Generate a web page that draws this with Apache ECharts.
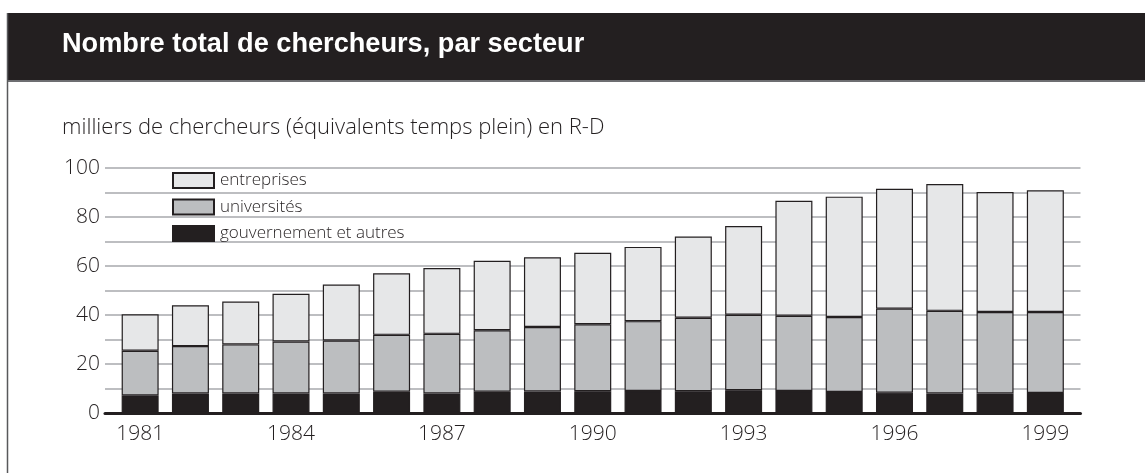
<!DOCTYPE html>
<html>
<head>
<meta charset="utf-8">
<title>Nombre total de chercheurs, par secteur</title>
<script src="https://cdn.jsdelivr.net/npm/echarts@6/dist/echarts.min.js"></script>
<style>
  html, body { margin: 0; padding: 0; background: #fff; }
  #chart { width: 1145px; height: 473px; }
</style>
</head>
<body>
<div id="chart"></div>
<script>
const years = ['1981', '1982', '1983', '1984', '1985', '1986', '1987', '1988', '1989', '1990',
  '1991', '1992', '1993', '1994', '1995', '1996', '1997', '1998', '1999']

// milliers de chercheurs, par secteur
const gouvernement = [7.2, 8.0, 8.0, 8.0, 8.0, 8.7, 8.0, 8.7, 8.8, 8.9, 9.0, 8.9, 9.3, 9.0, 8.6, 8.3, 8.0, 8.0, 8.2]
const universites = [18.2, 19.3, 20.0, 21.2, 21.6, 23.2, 24.3, 25.1, 26.3, 27.3, 28.5, 30.0, 30.8, 30.7, 30.6, 34.3, 33.7, 33.2, 33.0]
const entreprises = [14.9, 16.7, 17.5, 19.5, 22.8, 25.1, 26.9, 28.3, 28.5, 29.2, 30.3, 33.1, 36.2, 46.9, 49.1, 48.9, 51.8, 49.0, 49.7]

const yMin = 0
const yMax = 100
const yStep = 10

const ink = '#231f20'
const font = "'Open Sans', 'Liberation Sans', sans-serif"

const chart = echarts.init(document.getElementById('chart'))

const barStyle = (color) => ({ color: color, borderColor: ink, borderWidth: 1.2 })

chart.setOption({
  animation: false,
  textStyle: { fontFamily: font, color: ink },
  graphic: [
    { type: 'rect', z: 0, shape: { x: 7, y: 13, width: 1140, height: 68 }, style: { fill: ink } },
    { type: 'line', z: 0, shape: { x1: 7, y1: 81, x2: 1145, y2: 81 }, style: { stroke: '#6d6e71', lineWidth: 2 } },
    { type: 'line', z: 0, shape: { x1: 7.5, y1: 13, x2: 7.5, y2: 473 }, style: { stroke: '#58595b', lineWidth: 1.5 } },
    {
      // titre condensé : pas de police étroite installée, on resserre en largeur
      type: 'text',
      z: 1,
      x: 62,
      y: 44,
      scaleX: 0.97,
      style: {
        text: 'Nombre total de chercheurs, par secteur',
        fill: '#fff',
        font: "bold 28px 'Liberation Sans', Arial, sans-serif",
        verticalAlign: 'middle'
      }
    }
  ],
  title: {
    text: 'milliers de chercheurs (équivalents temps plein) en R-D',
    left: 62,
    top: 117,
    padding: 0,
    textStyle: { color: ink, fontFamily: font, fontWeight: 300, fontSize: 22 }
  },
  legend: {
    orient: 'vertical',
    left: 172,
    top: 172,
    padding: 0,
    itemWidth: 41,
    itemHeight: 15,
    itemGap: 9.5,
    icon: 'rect',
    data: ['entreprises', 'universités', 'gouvernement et autres'],
    textStyle: { color: ink, fontSize: 17, fontWeight: 300, lineHeight: 15, padding: [0, 0, 0, 1] }
  },
  grid: [
    { left: 115, right: 74.5, top: 168, bottom: 60 },
    { left: 105, right: 64.5, top: 168, bottom: 60 }
  ],
  xAxis: [{
    gridIndex: 0,
    type: 'category',
    data: years,
    axisLine: { show: false },
    axisTick: { show: false },
    axisLabel: {
      interval: 2,
      margin: 11,
      fontSize: 21,
      fontWeight: 300,
      color: ink
    }
  }, {
    gridIndex: 1,
    type: 'value',
    min: 0,
    max: 1,
    axisLine: { show: true, lineStyle: { color: ink, width: 3 } },
    axisTick: { show: false },
    axisLabel: { show: false },
    splitLine: { show: false }
  }],
  yAxis: [{
    gridIndex: 0,
    type: 'value',
    min: yMin,
    max: yMax,
    interval: yStep,
    show: false
  }, {
    gridIndex: 1,
    type: 'value',
    min: yMin,
    max: yMax,
    interval: yStep,
    axisLine: { show: false },
    axisTick: { show: false },
    axisLabel: {
      margin: 5,
      fontSize: 21,
      fontWeight: 300,
      color: ink,
      formatter: (v) => (v % 20 === 0 ? String(v) : '')
    },
    splitLine: { lineStyle: { color: '#a7a9ac', width: 1.5 } }
  }],
  series: [{
    name: 'gouvernement et autres',
    type: 'bar',
    stack: 'total',
    barWidth: 37,
    itemStyle: barStyle(ink),
    data: gouvernement
  }, {
    name: 'universités',
    type: 'bar',
    stack: 'total',
    barWidth: 37,
    itemStyle: barStyle('#bcbec0'),
    data: universites
  }, {
    name: 'entreprises',
    type: 'bar',
    stack: 'total',
    barWidth: 37,
    itemStyle: barStyle('#e6e7e8'),
    data: entreprises
  }]
})
</script>
</body>
</html>
